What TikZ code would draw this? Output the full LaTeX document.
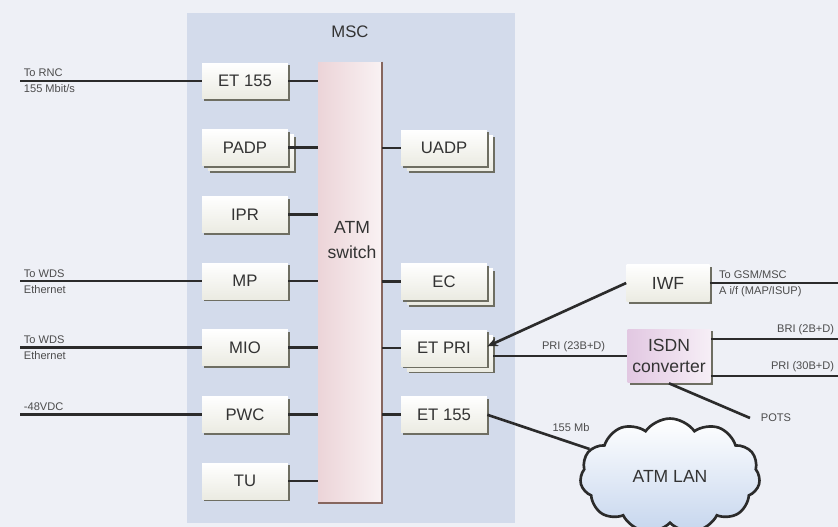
\documentclass[tikz,border=0pt]{standalone}
\usepackage{fontspec}
\setmainfont{Liberation Sans}
\usetikzlibrary{shapes.symbols, arrows.meta, shadows}
\definecolor{pagebg}{HTML}{EEF0F6}
\definecolor{mscbg}{HTML}{D3DBEB}
\definecolor{unitfill}{HTML}{EBEBE2}
\definecolor{bevel}{HTML}{6E6E62}
\definecolor{wirecol}{HTML}{2B2B2B}
\definecolor{barpink}{HTML}{ECD4D8}
\definecolor{baredge}{HTML}{86665E}
\definecolor{isdnpink}{HTML}{E2C8E2}
\definecolor{cloudblue}{HTML}{C6D6EE}

\begin{document}
\begin{tikzpicture}[x=0.02cm, y=-0.02cm, node distance=1.334cm,
  unit/.style={rectangle, top color=white, bottom color=unitfill, minimum width=1.72cm, minimum height=0.72cm, inner sep=0pt, text=black!80, font=\fontsize{9.5}{11}\selectfont, general shadow={fill=bevel, shadow xshift=1.3pt, shadow yshift=-1.3pt}},
  panel/.style={rectangle, fill=mscbg, minimum width=6.56cm, minimum height=10.2cm, inner sep=0pt},
  switchbar/.style={rectangle, left color=barpink, right color=barpink!30!white, minimum width=1.28cm, minimum height=8.82cm, inner sep=0pt},
  wire/.style={draw=wirecol, line width=1.5pt},
  tag/.style={font=\fontsize{6.3}{7.5}\selectfont, text=black!70, inner sep=1.5pt},
  arrow/.style={wire, -{Stealth[length=6pt, width=5pt]}},
  lan/.style={cloud, cloud puffs=11, cloud puff arc=110, aspect=1.7, draw=wirecol, line width=1.5pt, top color=white, bottom color=cloudblue, minimum width=3.6cm, minimum height=2.3cm, font=\fontsize{10}{12}\selectfont, text=black!80}
]

\useasboundingbox (0,0) rectangle (838,527);
\clip (0,0) rectangle (838,527);
\fill [pagebg] (0,0) rectangle (838,527);

% MSC frame and switch
\node (msc) [panel] at (351,268) {};
\node (msclabel) [font=\fontsize{9.5}{11}\selectfont, text=black!80] at (350,32) {MSC};
\node (atm) [switchbar] at (350,282.5) {};
\draw [baredge, line width=1.2pt] (atm.north east) -- (atm.south east) -- (atm.south west);
\node (atmtext) [align=center, font=\fontsize{10}{14}\selectfont, text=black!80] at (352,240) {ATM\\switch};

% left column
\node (etl) [unit] at (245,81) {ET 155};
\node (padpback) [unit, below of=etl, xshift=0.12cm, yshift=-0.1cm] {};
\node (padp) [unit, below of=etl] {PADP};
\node (ipr) [unit, below of=padp] {IPR};
\node (mp) [unit, below of=ipr] {MP};
\node (mio) [unit, below of=mp] {MIO};
\node (pwc) [unit, below of=mio] {PWC};
\node (tu) [unit, below of=pwc] {TU};

% right column
\node (uadpback) [unit, xshift=0.12cm, yshift=-0.1cm] at (444,148) {};
\node (uadp) [unit] at (444,148) {UADP};
\node (ecback) [unit, below of=uadp, xshift=0.12cm, yshift=-1.434cm] {};
\node (ec) [unit, below of=uadp, yshift=-1.334cm] {EC};
\node (etpriback) [unit, below of=ec, xshift=0.12cm, yshift=-0.1cm] {};
\node (etpri) [unit, below of=ec] {ET PRI};
\node (etr) [unit, below of=etpri] {ET 155};

% outside the MSC
\node (iwf) [unit, minimum width=1.66cm, minimum height=0.74cm, font=\fontsize{10}{12}\selectfont] at (668,283) {IWF};
\node (isdn) [unit, left color=isdnpink, right color=isdnpink!30!white, minimum width=1.66cm, minimum height=1.08cm, align=center, font=\fontsize{10}{11.5}\selectfont] at (669,356) {ISDN\\converter};
\node (atmlan) [lan] at (670,476) {ATM LAN};

\coordinate (lefte) at (20,0);
\coordinate (gsm) at (838,283);
\coordinate (bri) at (838,339);
\coordinate (pri) at (838,376);
\coordinate (pots) at (750,418);

% links to the switch
\foreach \n in {etl, padp, ipr, mp, mio, pwc, tu}
  \draw [wire] (\n.east) -- (\n.east -| atm.west);
\foreach \n in {uadp, ec, etpri, etr}
  \draw [wire] (\n.west) -- (\n.west -| atm.east);

% external lines
\draw [wire] (lefte |- etl) -- node[tag, at start, above right] {To RNC} node[tag, at start, below right] {155 Mbit/s} (etl.west);
\draw [wire] (lefte |- mp) -- node[tag, at start, above right] {To WDS} node[tag, at start, below right] {Ethernet} (mp.west);
\draw [wire] (lefte |- mio) -- node[tag, at start, above right] {To WDS} node[tag, at start, below right] {Ethernet} (mio.west);
\draw [wire] (lefte |- pwc) -- node[tag, at start, above right] {-48VDC} (pwc.west);

\draw [wire] (iwf.east) -- node[tag, at start, above right, xshift=3pt] {To GSM/MSC} node[tag, at start, below right, xshift=3pt] {A i/f (MAP/ISUP)} (gsm);
\draw [arrow] (iwf.west) -- ([yshift=1pt]etpri.east);
\draw [wire] (etpriback.east |- isdn.west) -- node[tag, pos=0.6, above] {PRI (23B+D)} (isdn.west);
\draw [wire] (isdn.east |- bri) -- node[tag, at end, above left] {BRI (2B+D)} (bri);
\draw [wire] (isdn.east |- pri) -- node[tag, at end, above left] {PRI (30B+D)} (pri);
\draw [wire] (isdn.south) -- node[tag, at end, right, xshift=4pt] {POTS} (pots);
\draw [wire] (etr.east) -- node[tag, pos=0.6, above right] {155 Mb} (atmlan);

\end{tikzpicture}
\end{document}
